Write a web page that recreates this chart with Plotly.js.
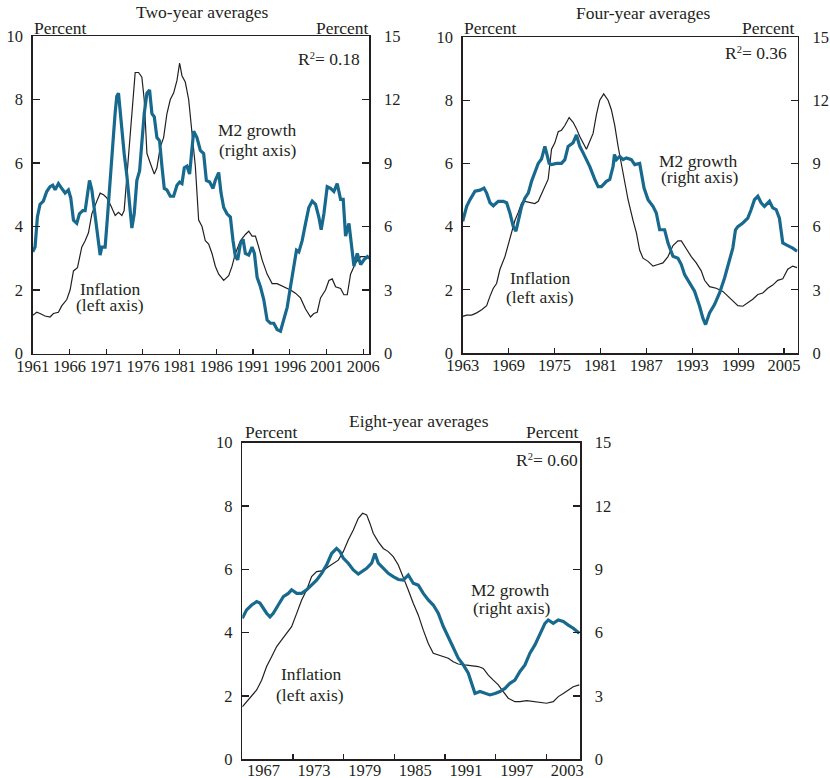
<!DOCTYPE html>
<html><head><meta charset="utf-8">
<script src="https://cdn.plot.ly/plotly-3.0.1.min.js"></script>
<style>html,body{margin:0;padding:0;background:#fff;} #chart{width:830px;height:778px;}</style>
</head><body><div id="chart"></div>
<script>
// ---------- Two-year averages ----------
const twoInfYears = [1961.0,1961.55,1962.0,1962.68,1963.36,1963.82,1964.5,1964.95,1965.64,1966.09,
1966.55,1967.09,1967.68,1968.14,1968.59,1969.05,1969.73,1970.18,1970.64,1971.09,
1971.55,1972.0,1972.23,1972.68,1973.14,1973.45,1973.82,1974.27,1974.64,1974.95,
1975.41,1975.86,1976.18,1976.55,1977.0,1977.55,1977.91,1978.36,1978.82,1979.27,
1979.73,1980.18,1980.64,1981.0,1981.32,1981.77,1982.23,1982.68,1983.14,1983.59,
1984.05,1984.5,1984.95,1985.41,1985.86,1986.32,1987.0,1987.68,1988.14,1988.59,
1989.27,1989.95,1990.41,1990.86,1991.32,1991.77,1992.23,1992.91,1993.59,1994.27,
1994.73,1995.41,1996.09,1996.77,1997.45,1998.14,1998.82,1999.27,1999.73,2000.18,
2000.86,2001.32,2001.77,2002.23,2002.91,2003.36,2003.82,2004.27,2004.95,2005.64,
2006.32,2006.82];
const twoInflation = [1.2,1.3,1.26,1.18,1.15,1.26,1.3,1.5,1.7,2.0,
2.6,2.7,3.35,3.55,3.8,4.4,4.8,5.05,5.0,4.9,
4.7,4.5,4.35,4.45,4.35,4.5,5.55,6.9,8.1,8.85,
8.85,8.7,8.0,6.3,6.0,5.65,5.85,6.5,6.8,7.55,
8.0,8.2,8.6,9.15,8.75,8.55,8.0,6.9,5.9,4.2,
4.0,3.55,3.45,3.15,2.75,2.5,2.3,2.45,2.75,3.15,
3.55,3.75,3.85,3.7,3.7,3.35,2.95,2.5,2.2,2.2,
2.15,2.05,2.0,1.9,1.75,1.4,1.15,1.26,1.3,1.75,
2.0,2.3,2.35,2.1,2.05,1.85,1.85,2.5,2.85,3.05,
3.05,3.0];
const twoM2Years = [1961.0,1961.32,1961.64,1962.0,1962.45,1962.91,1963.36,1963.73,1964.05,1964.5,
1964.95,1965.41,1965.86,1966.18,1966.55,1967.0,1967.36,1967.82,1968.14,1968.45,
1968.73,1969.05,1969.5,1969.95,1970.18,1970.41,1970.86,1971.18,1971.55,1971.91,
1972.23,1972.45,1972.68,1972.91,1973.14,1973.45,1973.82,1974.18,1974.5,1974.82,
1975.18,1975.55,1975.86,1976.18,1976.55,1976.91,1977.23,1977.55,1977.91,1978.27,
1978.59,1978.91,1979.27,1979.73,1980.18,1980.64,1981.0,1981.32,1981.64,1982.0,
1982.36,1982.68,1982.91,1983.36,1983.82,1984.27,1984.64,1985.09,1985.55,1985.86,
1986.32,1986.64,1987.0,1987.45,1987.91,1988.27,1988.59,1988.91,1989.27,1989.64,
1989.95,1990.41,1990.86,1991.18,1991.55,1992.0,1992.45,1992.91,1993.36,1993.82,
1994.27,1994.73,1995.18,1995.64,1996.09,1996.55,1996.91,1997.23,1997.68,1998.14,
1998.59,1999.05,1999.5,1999.95,2000.27,2000.64,2001.09,2001.55,2002.0,2002.45,
2002.91,2003.27,2003.59,2004.05,2004.36,2004.73,2005.18,2005.64,2006.09,2006.55,
2006.82];
const twoM2 = [4.8,5.03,6.45,7.05,7.2,7.65,7.88,7.95,7.73,8.03,
7.8,7.58,7.73,7.35,6.3,6.15,6.6,6.75,6.75,7.5,
8.18,7.73,6.45,5.03,4.65,5.03,5.03,6.45,8.48,9.9,
11.4,12.15,12.3,11.33,10.73,9.45,8.4,6.9,5.93,6.6,
8.18,8.63,9.9,11.33,12.3,12.45,11.33,11.18,10.2,10.05,
8.85,7.8,7.73,7.43,7.43,7.95,8.1,8.03,8.78,8.85,
8.48,9.75,10.5,10.2,9.6,9.45,8.18,8.1,7.8,8.18,
8.55,7.58,6.9,6.6,6.45,5.33,4.58,4.43,5.18,5.4,
4.73,4.65,5.03,4.73,3.6,3.15,2.55,1.58,1.43,1.43,
1.13,1.05,1.58,2.18,3.15,4.13,4.88,4.8,5.33,6.15,
6.9,7.2,7.05,6.45,5.85,6.6,7.88,7.8,7.65,8.03,
7.28,7.28,5.55,6.15,5.18,4.13,4.73,4.2,4.43,4.58,
4.5];
const twoTicks = [1961,1966,1971,1976,1981,1986,1991,1996,2001,2006];

// ---------- Four-year averages ----------
const fourInfYears = [1963.0,1963.52,1964.17,1964.83,1965.48,1966.13,1966.57,1967.0,1967.43,1967.87,
1968.52,1969.17,1969.83,1970.26,1970.7,1971.13,1971.78,1972.43,1972.87,1973.52,
1974.17,1974.61,1975.04,1975.48,1975.91,1976.35,1976.91,1977.43,1977.87,1978.3,
1978.74,1979.17,1979.61,1980.04,1980.48,1980.91,1981.43,1982.0,1982.43,1982.87,
1983.3,1983.96,1984.61,1985.26,1985.7,1986.13,1986.57,1987.22,1987.87,1988.52,
1989.17,1989.83,1990.48,1991.13,1991.57,1992.22,1992.87,1993.52,1994.17,1994.61,
1995.26,1996.13,1997.0,1997.65,1998.3,1998.96,1999.61,2000.26,2000.91,2001.57,
2002.22,2002.87,2003.52,2004.17,2004.83,2005.48,2006.13,2006.7];
const fourInflation = [1.16,1.2,1.2,1.27,1.37,1.5,1.8,2.05,2.2,2.65,
3.05,3.6,4.2,4.45,4.75,4.8,4.77,4.73,4.8,5.15,
5.5,6.45,6.65,7.0,7.05,7.2,7.45,7.3,7.1,6.85,
6.65,6.45,6.7,6.95,7.55,8.0,8.2,8.0,7.7,7.2,
6.55,5.7,4.85,4.2,3.8,3.25,3.0,2.9,2.75,2.8,
2.85,3.05,3.4,3.55,3.55,3.3,3.05,2.85,2.6,2.3,
2.1,2.05,1.95,1.8,1.65,1.5,1.48,1.58,1.7,1.85,
1.9,2.05,2.15,2.3,2.35,2.65,2.75,2.7];
const fourM2Years = [1963.0,1963.52,1963.96,1964.61,1965.26,1965.78,1966.13,1966.57,1967.0,1967.65,
1968.3,1968.74,1969.17,1969.61,1969.96,1970.26,1970.7,1971.13,1971.57,1972.0,
1972.43,1972.87,1973.3,1973.74,1973.96,1974.3,1974.61,1975.26,1975.91,1976.35,
1976.78,1977.43,1977.87,1978.3,1978.74,1979.17,1979.61,1980.26,1980.7,1981.13,
1981.78,1982.22,1982.65,1982.83,1983.09,1983.52,1983.96,1984.39,1985.04,1985.48,
1986.13,1986.7,1987.22,1987.87,1988.3,1988.74,1989.39,1989.83,1990.48,1991.13,
1991.57,1992.0,1992.65,1993.3,1993.96,1994.39,1994.74,1995.26,1995.91,1996.57,
1997.22,1997.87,1998.3,1998.65,1998.96,1999.61,2000.26,2000.7,2001.13,2001.57,
2002.0,2002.43,2003.09,2003.52,2003.96,2004.39,2004.83,2005.48,2006.13,2006.7];
const fourM2 = [6.25,6.96,7.28,7.68,7.73,7.83,7.59,7.13,6.99,7.2,
7.2,7.13,6.65,6.0,5.78,6.25,6.96,7.35,7.59,8.15,
8.63,9.0,9.21,9.81,9.5,9.0,8.94,9.0,9.0,9.18,
9.81,9.98,10.35,9.81,9.5,9.18,8.85,8.24,7.9,7.9,
8.15,8.24,8.85,9.42,9.18,9.33,9.18,9.26,9.18,8.94,
9.0,7.83,7.28,6.96,6.65,5.85,5.85,5.22,4.59,4.5,
4.2,3.72,3.33,2.93,2.22,1.65,1.35,1.9,2.3,2.85,
3.56,4.43,4.98,5.85,6.0,6.17,6.4,6.81,7.28,7.44,
7.13,6.96,7.2,6.89,6.81,6.4,5.22,5.1,4.98,4.83];
const fourTicks = [1963,1969,1975,1981,1987,1993,1999,2005];

// ---------- Eight-year averages ----------
const eightInfYears = [1964.5,1965.01,1965.61,1966.2,1966.79,1967.38,1967.97,1968.57,1969.16,1969.75,
1970.34,1970.94,1971.53,1972.12,1972.71,1973.3,1974.09,1974.69,1975.28,1975.87,
1976.46,1977.05,1977.65,1978.24,1978.75,1979.23,1979.62,1980.01,1980.61,1981.2,
1981.79,1982.38,1982.98,1983.57,1984.16,1984.75,1985.34,1985.94,1986.53,1987.12,
1987.71,1988.31,1988.9,1989.49,1990.08,1990.87,1991.66,1992.45,1993.04,1993.64,
1994.23,1994.82,1995.41,1996.0,1996.79,1997.39,1998.18,1998.97,1999.75,2000.54,
2001.33,2001.93,2002.52,2003.11,2003.7,2004.41];
const eightInflation = [1.66,1.82,2.03,2.19,2.5,2.93,3.24,3.56,3.77,3.98,
4.19,4.61,5.03,5.35,5.77,5.93,5.96,6.08,6.19,6.29,
6.56,6.93,7.24,7.61,7.77,7.72,7.45,7.14,6.87,6.66,
6.56,6.4,6.14,5.77,5.35,4.93,4.56,4.08,3.66,3.35,
3.29,3.24,3.19,3.08,3.01,2.98,2.96,2.93,2.87,2.66,
2.5,2.35,2.14,1.93,1.82,1.82,1.85,1.82,1.79,1.77,
1.82,1.98,2.08,2.19,2.29,2.35];
const eightM2Years = [1964.5,1965.01,1965.61,1966.2,1966.59,1966.99,1967.38,1967.78,1968.17,1968.76,
1969.36,1969.95,1970.34,1970.94,1971.53,1972.12,1972.71,1973.3,1973.9,1974.49,
1975.08,1975.67,1976.07,1976.46,1977.05,1977.65,1978.24,1978.63,1979.23,1979.82,
1980.21,1980.61,1981.2,1981.79,1982.38,1982.98,1983.57,1984.16,1984.75,1985.34,
1985.94,1986.53,1987.12,1987.71,1988.31,1988.9,1989.49,1990.08,1990.68,1991.27,
1991.66,1992.06,1992.65,1993.24,1993.83,1994.43,1995.02,1995.61,1996.2,1996.79,
1997.39,1997.98,1998.57,1999.16,1999.75,2000.35,2000.74,2001.33,2001.93,2002.52,
2003.11,2003.7,2004.41];
const eightM2 = [6.68,7.08,7.31,7.47,7.4,7.16,6.92,6.75,6.92,7.31,
7.71,7.86,8.03,7.86,7.86,8.03,8.25,8.49,8.81,9.21,
9.75,9.99,9.84,9.53,9.29,8.97,8.78,8.9,9.05,9.29,
9.75,9.29,9.05,8.81,8.66,8.52,8.49,8.73,8.34,8.25,
7.86,7.55,7.31,6.92,6.29,5.81,5.34,4.79,4.47,4.08,
3.6,3.12,3.21,3.12,3.05,3.12,3.21,3.36,3.6,3.75,
4.16,4.47,5.03,5.42,5.9,6.44,6.6,6.44,6.6,6.53,
6.36,6.21,5.97];
const eightLabels = [1967,1973,1979,1985,1991,1997,2003];
const eightTickMarks = [1970.5,1976.5,1982.5,1988.5,1994.5,2000.5];

const leftTicks = [0,2,4,6,8,10];
const rightTicks = [0,3,6,9,12,15];
const rSquared = ["0.18","0.36","0.60"];
const titles = ["Two-year averages","Four-year averages","Eight-year averages"];

// ---------- styling / layout ----------
const W = 830, H = 778;
const fx = x => x / W, fy = y => 1 - y / H;
const FONT = "Liberation Serif, 'Times New Roman', serif";
const INK = "#231f20";
const TEAL = "#17698d";

function lineTrace(x, y, xa, ya, m2) {
  return {type:"scatter", mode:"lines", x:x, y:y, xaxis:xa, yaxis:ya,
    line: m2 ? {color:TEAL, width:3.2} : {color:INK, width:1.2},
    hoverinfo:"skip", showlegend:false};
}

const data = [
  lineTrace(twoInfYears, twoInflation, "x", "y", false),
  lineTrace(twoM2Years, twoM2, "x", "y2", true),
  lineTrace(fourInfYears, fourInflation, "x2", "y3", false),
  lineTrace(fourM2Years, fourM2, "x2", "y4", true),
  lineTrace(eightInfYears, eightInflation, "x3", "y5", false),
  lineTrace(eightM2Years, eightM2, "x3", "y6", true)
];

const tickFont = {family:FONT, size:16.5, color:INK};
function xAxis(domain, range, tickvals, anchor, standoff) {
  return {domain:domain, range:range, anchor:anchor, tickmode:"array", tickvals:tickvals,
    ticktext: tickvals.map(String), ticks:"inside", ticklen:5, tickwidth:1.2, tickcolor:INK,
    showline:true, linewidth:1.5, linecolor:INK, mirror:true, showgrid:false, zeroline:false,
    tickfont:tickFont, fixedrange:true, ticklabelstandoff:standoff};
}
function yLeft(domain, anchor) {
  return {domain:domain, range:[0,10], anchor:anchor, tickmode:"array", tickvals:leftTicks,
    ticks:"inside", ticklen:7, tickwidth:1.2, tickcolor:INK, showline:true, linewidth:1.5,
    linecolor:INK, showgrid:false, zeroline:false, tickfont:tickFont, fixedrange:true,
    ticklabelstandoff:5};
}
function yRight(over, anchor) {
  return {overlaying:over, side:"right", range:[0,15], anchor:anchor, tickmode:"array",
    tickvals:rightTicks, ticks:"inside", ticklen:7, tickwidth:1.2, tickcolor:INK,
    showline:true, linewidth:1.5, linecolor:INK, showgrid:false, zeroline:false,
    tickfont:tickFont, fixedrange:true, ticklabelstandoff:10};
}

const x3 = xAxis([fx(242.3), fx(580)], [1964.5, 2004.5], eightLabels, "y5", -5);
x3.ticks = "";
x3.minor = {tickmode:"array", tickvals:eightTickMarks, ticks:"inside", ticklen:5, tickwidth:1.2, tickcolor:INK, showgrid:false};

const layout = {
  width:W, height:H, margin:{l:0, r:0, t:0, b:0},
  paper_bgcolor:"#fff", plot_bgcolor:"rgba(0,0,0,0)", showlegend:false,
  font:{family:FONT, color:INK},
  xaxis: xAxis([fx(32.7), fx(369.3)], [1961, 2006.82], twoTicks, "y", -3),
  yaxis: yLeft([fy(353.5), fy(36)], "x"),
  yaxis2: yRight("y", "x"),
  xaxis2: xAxis([fx(462.7), fx(797.7)], [1963, 2006.78], fourTicks, "y3", -3),
  yaxis3: yLeft([fy(353), fy(37)], "x2"),
  yaxis4: yRight("y3", "x2"),
  xaxis3: x3,
  yaxis5: yLeft([fy(759.3), fy(442.7)], "x3"),
  yaxis6: yRight("y5", "x3"),
  annotations: []
};

function note(text, x, y, anchor) {
  layout.annotations.push({xref:"paper", yref:"paper", x:fx(x), y:fy(y), xanchor:anchor,
    yanchor:"middle", text:text, showarrow:false, borderpad:0,
    font:{family:FONT, size:17.5, color:INK}});
}
const R2 = v => "R<span style='font-size:15px'><sup>2</sup></span>= " + v;
// panel 1
note(titles[0], 202.5, 12, "center");
note("Percent", 32.5, 27.7, "left");
note("Percent", 370, 27.7, "right");
note(R2(rSquared[0]), 361, 59, "right");
note("M2 growth", 257.7, 130, "center");
note("(right axis)", 257.7, 150, "center");
note("Inflation", 110, 289, "center");
note("(left axis)", 110, 305, "center");
// panel 2
note(titles[1], 643.3, 12.7, "center");
note("Percent", 462.5, 28.3, "left");
note("Percent", 796, 28.3, "right");
note(R2(rSquared[1]), 788, 53.3, "right");
note("M2 growth", 698.7, 161, "center");
note("(right axis)", 699, 177, "center");
note("Inflation", 540, 278.3, "center");
note("(left axis)", 540, 296.7, "center");
// panel 3
note(titles[2], 419.3, 420.7, "center");
note("Percent", 244, 432.3, "left");
note("Percent", 580, 432.3, "right");
note(R2(rSquared[2]), 578.5, 460, "right");
note("M2 growth", 510, 590, "center");
note("(right axis)", 511.3, 608.3, "center");
note("Inflation", 311.8, 674.3, "center");
note("(left axis)", 310, 695, "center");

Plotly.newPlot("chart", data, layout, {displayModeBar:false, staticPlot:true});
</script></body></html>
